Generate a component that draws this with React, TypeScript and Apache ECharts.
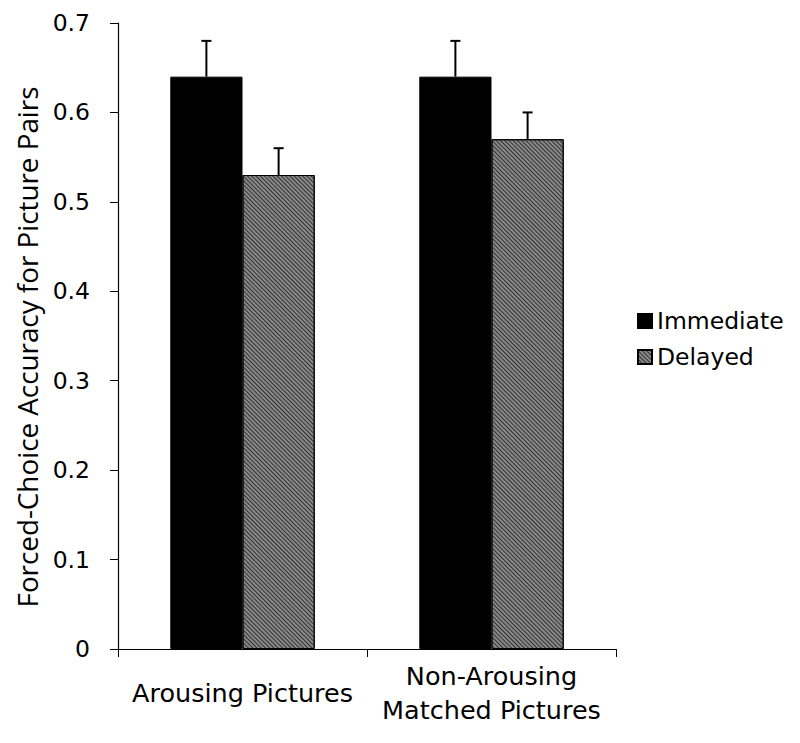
import React, { useEffect, useRef } from "react";
import * as echarts from "echarts";

const categories = ["Arousing Pictures", "Non-Arousing\nMatched Pictures"];
const seriesNames = ["Immediate", "Delayed"];
const immediateValues = [0.64, 0.64];
const delayedValues = [0.53, 0.57];
const immediateErrors = [0.04, 0.04];
const delayedErrors = [0.03, 0.03];
const yTicks = { min: 0, max: 0.7, interval: 0.1 };
const yTitle = "Forced-Choice Accuracy for Picture Pairs";

const BAR_FRAC = 0.29;

export default function App() {
  const ref = useRef<HTMLDivElement>(null);
  useEffect(() => {
    if (!ref.current) return;
    const chart = echarts.init(ref.current, null, { renderer: "svg" });
    const errData: number[][] = [];
    immediateValues.forEach((v, i) => errData.push([i, v, v + immediateErrors[i], -1]));
    delayedValues.forEach((v, i) => errData.push([i, v, v + delayedErrors[i], 1]));

    const hatch = {
      symbol: "rect",
      color: "#333",
      backgroundColor: "#c4c4c4",
      dashArrayX: [1, 0],
      dashArrayY: [1, 1.2],
      rotation: Math.PI / 4,
      symbolSize: 1,
    };

    chart.setOption({
      animation: false,
      backgroundColor: "#fff",
      textStyle: { fontFamily: "DejaVu Sans" },
      grid: { left: 118, right: 184, top: 23, bottom: 94, containLabel: false },
      graphic: [
        {
          type: "text",
          x: 27,
          y: 347,
          rotation: Math.PI / 2,
          style: {
            text: yTitle,
            fontSize: 27.8,
            fontFamily: "Open Sans",
            fill: "#000",
            align: "center",
            verticalAlign: "middle",
          },
        },
      ],
      legend: {
        orient: "vertical",
        left: 632,
        top: 303,
        itemWidth: 14,
        itemHeight: 14,
        itemGap: 10,
        icon: "rect",
        data: seriesNames,
        textStyle: { fontSize: 23.5, fontFamily: "DejaVu Sans", color: "#000", lineHeight: 26 },
      },
      xAxis: {
        type: "category",
        data: categories,
        axisLine: { lineStyle: { color: "#000", width: 1.2 } },
        axisTick: { show: true, alignWithLabel: false, length: 8, lineStyle: { color: "#000" } },
        axisLabel: {
          fontSize: 25.5,
          color: "#000",
          fontFamily: "DejaVu Sans",
          margin: 44,
          verticalAlign: "middle",
          lineHeight: 34,
          interval: 0,
        },
      },
      yAxis: {
        type: "value",
        min: yTicks.min,
        max: yTicks.max,
        interval: yTicks.interval,
        splitLine: { show: false },
        axisLine: { show: true, lineStyle: { color: "#000", width: 1.2 } },
        axisTick: { show: true, length: 8, lineStyle: { color: "#000" } },
        axisLabel: {
          fontSize: 23.5,
          color: "#000",
          fontFamily: "DejaVu Sans",
          margin: 28,
          formatter: (v: number) => (v === 0 ? "0" : v.toFixed(1)),
        },
      },
      series: [
        {
          name: seriesNames[0],
          type: "bar",
          data: immediateValues,
          barWidth: BAR_FRAC * 100 + "%",
          barGap: "0%",
          itemStyle: { color: "#000", borderColor: "#000", borderWidth: 1 },
        },
        {
          name: seriesNames[1],
          type: "bar",
          data: delayedValues,
          barWidth: BAR_FRAC * 100 + "%",
          barGap: "0%",
          itemStyle: { color: "#888", borderColor: "#000", borderWidth: 1, decal: hatch },
        },
        {
          type: "custom",
          name: "err",
          data: errData,
          z: 10,
          renderItem: (params: any, api: any) => {
            const cat = api.value(0);
            const top = api.coord([cat, api.value(2)]);
            const base = api.coord([cat, api.value(1)]);
            const w = api.size([1, 0])[0] * BAR_FRAC;
            const x = top[0] + (api.value(3) * w) / 2;
            const cap = 5;
            return {
              type: "group",
              children: [
                { type: "line", shape: { x1: x, y1: base[1], x2: x, y2: top[1] }, style: { stroke: "#000", lineWidth: 2 } },
                { type: "line", shape: { x1: x - cap, y1: top[1], x2: x + cap, y2: top[1] }, style: { stroke: "#000", lineWidth: 2 } },
              ],
            };
          },
        },
      ],
    });
    return () => chart.dispose();
  }, []);
  return <div ref={ref} style={{ width: 800, height: 743, position: "absolute", left: 0, top: 0 }} />;
}
